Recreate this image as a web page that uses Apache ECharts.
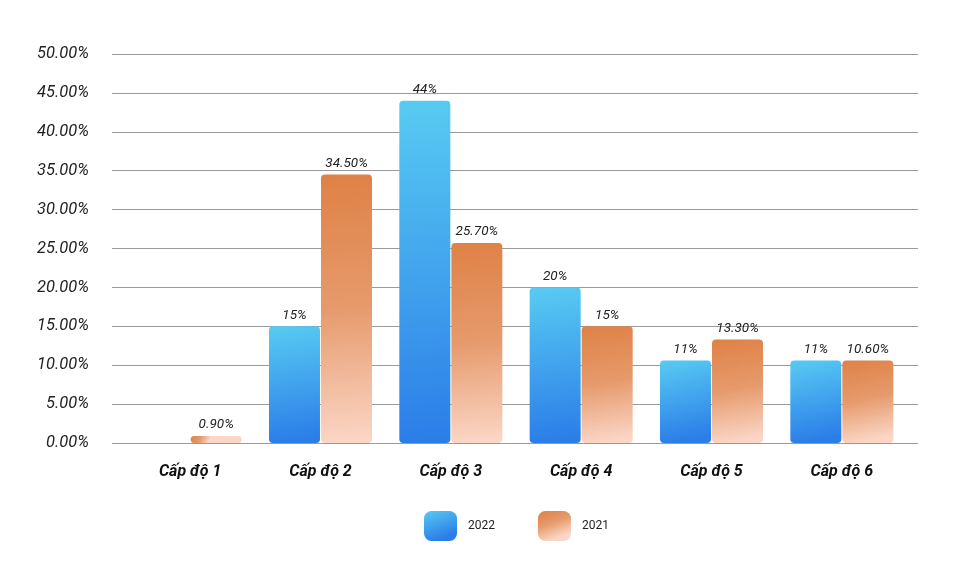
<!DOCTYPE html>
<html><head><meta charset="utf-8">
<script src="https://cdn.jsdelivr.net/npm/echarts@6/dist/echarts.min.js"></script>
<style>html,body{margin:0;padding:0;background:#fff}#c{width:956px;height:571px}</style>
</head><body><div id="c"></div>
<script>
const categories = ["Cấp độ 1","Cấp độ 2","Cấp độ 3","Cấp độ 4","Cấp độ 5","Cấp độ 6"];
const values2022 = [null, 15, 44, 20, 10.6, 10.6];
const labels2022 = ["", "15%", "44%", "20%", "11%", "11%"];
const values2021 = [0.9, 34.5, 25.7, 15, 13.3, 10.6];
const labels2021 = ["0.90%", "34.50%", "25.70%", "15%", "13.30%", "10.60%"];
const yTicks = [0,5,10,15,20,25,30,35,40,45,50];

const chart = echarts.init(document.getElementById('c'));
const blue = new echarts.graphic.LinearGradient(0,0,0.35,1,[{offset:0,color:'#58cbf2'},{offset:1,color:'#2b7de8'}]);
const orange = new echarts.graphic.LinearGradient(0,0,0.35,1,[{offset:0,color:'#df8146'},{offset:0.5,color:'#e69a6c'},{offset:1,color:'#fbd6c6'}]);
const font = 'Roboto';
chart.setOption({
  animation:false,
  textStyle:{fontFamily:font},
  legend:{
    data:['2022','2021'], bottom:25, left:419, itemWidth:33, itemHeight:30, itemGap:43,
    icon:'roundRect',
    textStyle:{fontSize:12,color:'#222',fontFamily:font,padding:[0,0,0,6]}
  },
  grid:[
    {left:112,right:38,top:54,bottom:128},
    {left:125,right:49,top:54,bottom:128}
  ],
  xAxis:[
    {type:'value',gridIndex:0,show:false,min:0,max:1},
    {type:'category',gridIndex:1,data:categories,
     axisLine:{show:false},axisTick:{show:false},
     axisLabel:{margin:21,fontSize:16,fontWeight:'bold',fontStyle:'italic',color:'#111',fontFamily:font}}
  ],
  yAxis:[
    {type:'value',gridIndex:0,min:0,max:50,interval:5,
     axisLine:{show:false},axisTick:{show:false},
     splitLine:{lineStyle:{color:'#9a9a9a',width:1}},
     axisLabel:{margin:23,fontSize:16.5,fontStyle:'italic',color:'#222',fontFamily:font,
       formatter:v=>yTicks.includes(v)?v.toFixed(2)+'%':''}},
    {type:'value',gridIndex:1,min:0,max:50,interval:5,show:false}
  ],
  series:[
    {name:'2022',type:'bar',xAxisIndex:1,yAxisIndex:1,data:values2022,barWidth:51,barGap:'2%',
     itemStyle:{color:blue,borderRadius:4},
     label:{show:true,position:'top',distance:4,fontSize:13.5,fontStyle:'italic',color:'#222',fontFamily:font,
       formatter:p=>labels2022[p.dataIndex]}},
    {name:'2021',type:'bar',xAxisIndex:1,yAxisIndex:1,data:values2021,barWidth:51,
     itemStyle:{color:orange,borderRadius:4},
     label:{show:true,position:'top',distance:4,fontSize:13.5,fontStyle:'italic',color:'#222',fontFamily:font,
       formatter:p=>labels2021[p.dataIndex]}}
  ]
});
</script></body></html>
